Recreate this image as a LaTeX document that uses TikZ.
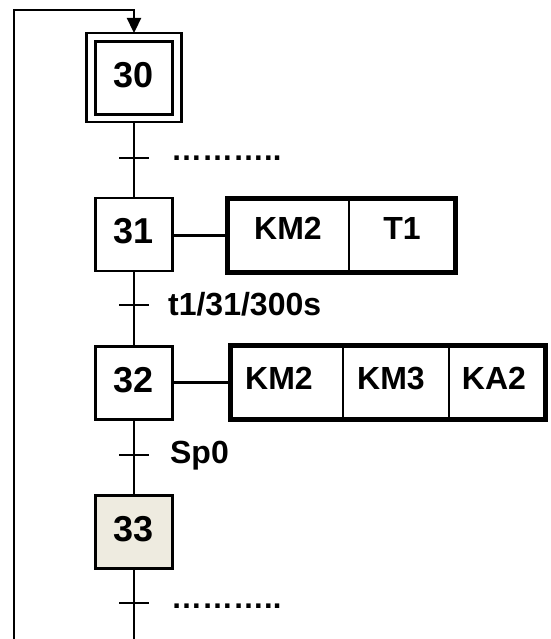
\documentclass[tikz,border=0pt]{standalone}
\usepackage{fontspec}
\setmainfont{Liberation Sans}
\usetikzlibrary{arrows.meta,calc}
\definecolor{beige}{RGB}{238,235,224}
\begin{document}
\begin{tikzpicture}[x=1pt,y=-1pt,line width=2.3pt,
  stepbox/.style={draw,minimum width=77pt,minimum height=73pt,inner sep=0pt,outer sep=0pt,
    font=\fontsize{36}{40}\selectfont\bfseries,text depth=7pt},
  initbox/.style={draw,minimum width=95pt,minimum height=89pt,inner sep=0pt,outer sep=0pt},
  actbox/.style={draw,line width=5pt,minimum height=74pt,inner sep=0pt,outer sep=0pt},
  acttext/.style={inner sep=0pt,font=\fontsize{32}{36}\selectfont\bfseries},
  lbl/.style={inner sep=0pt,anchor=base west,font=\fontsize{32}{36}\selectfont\bfseries},
  dots/.style={inner sep=0pt,anchor=base west,font=\fontsize{31}{36}\selectfont\bfseries},
  tick/.style={line width=2.3pt}]
\useasboundingbox (0,0) rectangle (550,639);

% steps
\node[initbox] (s30o) at (134,77.5) {};
\node[stepbox] (s30) at (134,78) {30};
\node[stepbox] (s31) at (134,234.5) {31};
\node[stepbox] (s32) at (134,383) {32};
\node[stepbox,fill=beige] (s33) at (134,532) {33};

% transitions
\coordinate (t0) at (134,158);
\coordinate (t1) at (134,305);
\coordinate (t2) at (134,455);
\coordinate (t3) at (134,603);
\coordinate (bot) at (134,639);
\coordinate (lb) at (14,639);

\draw (s30o.south) -- (s31.north);
\draw (s31.south) -- (s32.north);
\draw (s32.south) -- (s33.north);
\draw (s33.south) -- (bot);
\foreach \t in {t0,t1,t2,t3}{
  \draw[tick] ($(\t)+(-15,0)$) -- ($(\t)+(15,0)$);
}

% loop back
\draw[-{Triangle[width=14pt,length=15pt]}] (lb) |- ($(s30o.north)+(0,-23)$) -- (s30o.north);

% transition labels
\node[dots] (d0) at (170,160.5) {………..};
\node[lbl] (l1) at (167,315) {t1/31/300s};
\node[lbl] (l2) at (169,463) {Sp0};
\node[dots] (d3) at (170,608.5) {………..};

% action box 1
\node[actbox,minimum width=228pt] (a1) at (341.5,235.5) {};
\draw (349,198.5) -- (349,272.5);
\node[acttext] (a1k) at (288,228) {KM2};
\node[acttext] (a1t) at (402,228) {T1};
\draw (s31.east |- a1.west) -- (a1.west);

% action box 2
\node[actbox,minimum width=315pt] (a2) at (388,382.5) {};
\draw (343,345.5) -- (343,419.5);
\draw (449,345.5) -- (449,419.5);
\node[acttext] (a2a) at (279,378.5) {KM2};
\node[acttext] (a2b) at (391,378.5) {KM3};
\node[acttext] (a2c) at (494,378.5) {KA2};
\draw (s32.east |- a2.west) -- (a2.west);
\end{tikzpicture}
\end{document}
